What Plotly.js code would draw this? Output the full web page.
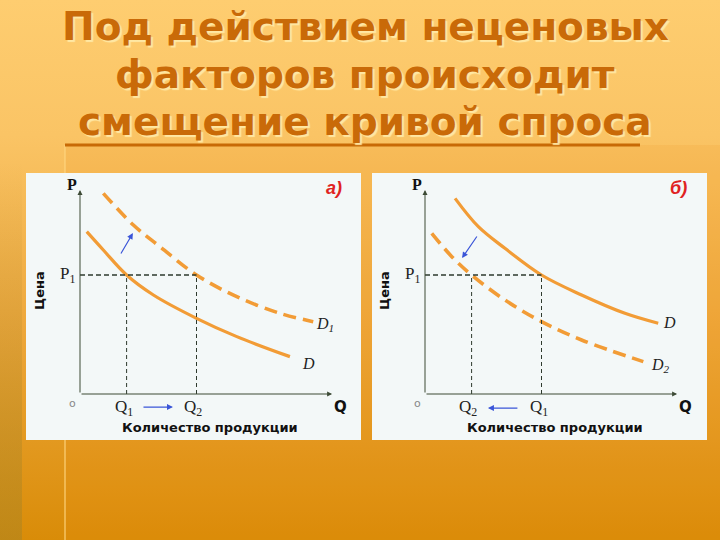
<!DOCTYPE html>
<html>
<head>
<meta charset="utf-8">
<script src="https://cdn.plot.ly/plotly-3.0.1.min.js"></script>
<style>
  html, body { margin:0; padding:0; width:720px; height:540px; overflow:hidden; }
  #bg { position:absolute; left:0; top:0; width:720px; height:540px;
        background: linear-gradient(to bottom, #FECD70 0%, #FAC465 25%, #EEA83C 60%, #D98C08 100%); }
  #strip { position:absolute; left:0; top:0; width:22px; height:540px;
        background: linear-gradient(to bottom, rgba(160,130,40,0) 30%, rgba(160,130,40,0.45) 100%); }
  #chart { position:absolute; left:0; top:0; width:720px; height:540px; }
</style>
</head>
<body>
<div id="bg"></div>
<div id="strip"></div>
<div id="chart"></div>
<script>
// ---- data (quantity, price) ----
const titleLines = ['Под действием неценовых', 'факторов происходит', 'смещение кривой спроса'];

// panel а): demand rises D -> D1
const qA_D  = [0.29, 1.00, 2.00, 3.15, 5.00, 6.73, 9.01];
const pA_D  = [6.82, 6.05, 5.00, 4.16, 3.18, 2.41, 1.57];
const qA_D1 = [1.00, 2.29, 3.43, 5.00, 6.73, 8.58, 10.01];
const pA_D1 = [8.43, 7.10, 6.19, 5.00, 4.09, 3.39, 3.04];

// panel б): demand falls D -> D2
const qB_D  = [1.29, 2.29, 3.43, 5.00, 6.72, 8.58, 10.01];
const pB_D  = [8.22, 7.03, 6.12, 5.00, 4.16, 3.39, 2.97];
const qB_D2 = [0.29, 1.15, 2.00, 3.43, 5.00, 6.72, 9.37];
const pB_D2 = [6.75, 5.77, 5.00, 3.95, 3.04, 2.27, 1.36];

const priceP1 = 5;
const qA = {Q1: 2, Q2: 5};
const qB = {Q1: 5, Q2: 2};

// shift arrows [fromQ, fromP, toQ, toP]
const curveArrowA = [1.72, 5.84, 2.27, 6.76];
const axisArrowA  = [2.66, -0.55, 3.99, -0.55];
const curveArrowB = [2.27, 6.68, 1.59, 5.71];
const axisArrowB  = [4.03, -0.59, 2.70, -0.59];

const axisLabelX = 'Количество продукции';
const axisLabelY = 'Цена';

// ---- styles / geometry ----
const AX_END = 10.82, AX_TOP = 8.57;          // where the drawn axis arrows end
const XR = [-2.2, 11.8], YR = [-1.8, 9.0];    // full axis ranges
const UX = 23.3, UY = 23.8;                    // pixels per unit
const orange = '#F29C36';
const axisCol = '#3c4a35';
const guideCol = '#2e3a2e';
const blue = '#3a55d8';
const serif = 'Liberation Serif, DejaVu Serif, serif';
const sans = 'DejaVu Sans, sans-serif';

function xDomain(ox) { return [(ox + XR[0]*UX)/720, (ox + XR[1]*UX)/720]; }
const OY = 394;
const yDom = [1 - (OY - YR[0]*UY)/540, 1 - (OY - YR[1]*UY)/540];

const traces = [
  {x:qA_D, y:pA_D, xaxis:'x', yaxis:'y', mode:'lines', line:{color:orange, width:3.2, shape:'spline'}, hoverinfo:'skip'},
  {x:qA_D1, y:pA_D1, xaxis:'x', yaxis:'y', mode:'lines', line:{color:orange, width:3.6, shape:'spline', dash:'13px,7px'}, hoverinfo:'skip'},
  {x:qB_D, y:pB_D, xaxis:'x2', yaxis:'y2', mode:'lines', line:{color:orange, width:3.2, shape:'spline'}, hoverinfo:'skip'},
  {x:qB_D2, y:pB_D2, xaxis:'x2', yaxis:'y2', mode:'lines', line:{color:orange, width:3.6, shape:'spline', dash:'13px,7px'}, hoverinfo:'skip'}
];

function guides(xr, yr, q) {
  const qmax = Math.max(q.Q1, q.Q2);
  return [
    {type:'line', xref:xr, yref:yr, x0:0, x1:qmax, y0:priceP1, y1:priceP1, line:{color:guideCol, width:1.3, dash:'5px,3px'}},
    {type:'line', xref:xr, yref:yr, x0:q.Q1, x1:q.Q1, y0:0, y1:priceP1, line:{color:guideCol, width:1, dash:'4px,3px'}},
    {type:'line', xref:xr, yref:yr, x0:q.Q2, x1:q.Q2, y0:0, y1:priceP1, line:{color:guideCol, width:1, dash:'4px,3px'}}
  ];
}

const shapes = [
  {type:'rect', xref:'paper', yref:'paper', x0:65/720, x1:1, y0:0, y1:1-145/540, fillcolor:'rgba(235,140,20,0.12)', line:{width:0}, layer:'below'},
  {type:'line', xref:'paper', yref:'paper', x0:65/720, x1:65/720, y0:0, y1:1-145/540, line:{color:'rgba(255,215,130,0.55)', width:2}, layer:'below'},
  {type:'line', xref:'paper', yref:'paper', x0:65/720, x1:640/720, y0:1-145/540, y1:1-145/540, line:{color:'#C86A06', width:3}, layer:'below'},
  {type:'rect', xref:'paper', yref:'paper', x0:26/720, x1:361/720, y0:1-440/540, y1:1-173/540, fillcolor:'#F3F8F8', line:{width:0}, layer:'below'},
  {type:'rect', xref:'paper', yref:'paper', x0:372/720, x1:707/720, y0:1-440/540, y1:1-173/540, fillcolor:'#F3F8F8', line:{width:0}, layer:'below'}
].concat(guides('x','y',qA), guides('x2','y2',qB));

function arrow(xr, yr, a, color, w, size) {
  return {xref:xr, yref:yr, axref:xr, ayref:yr, x:a[2], y:a[3], ax:a[0], ay:a[1],
          text:'', showarrow:true, arrowhead:2, arrowsize:size, arrowwidth:w, arrowcolor:color};
}
function label(xr, yr, x, y, text, font, extra) {
  return Object.assign({xref:xr, yref:yr, x:x, y:y, text:text, showarrow:false, font:font}, extra||{});
}

function panelAnnotations(xr, yr, q, tag, dashName, solidPos, dashPos, cArr, aArr) {
  const f17 = {family:serif, size:17, color:'#222'};
  return [
    arrow(xr, yr, [0,0,0,AX_TOP], axisCol, 1, 1),
    arrow(xr, yr, [0,0,AX_END,0], axisCol, 1, 1),
    arrow(xr, yr, cArr, blue, 1.2, 1),
    arrow(xr, yr, aArr, blue, 1.2, 1),
    label(xr, yr, -0.34, 8.8, 'P', {family:serif, size:16, color:'#111', weight:700}),
    label(xr, yr, -0.15, priceP1, 'P<sub>1</sub>', f17, {xanchor:'right'}),
    label(xr, yr, -0.34, -0.38, 'o', {family:sans, size:11, color:'#888'}),
    label(xr, yr, q.Q1 - 0.1, -0.6, 'Q<sub>1</sub>', f17),
    label(xr, yr, q.Q2 - 0.15, -0.6, 'Q<sub>2</sub>', f17),
    label(xr, yr, 11.2, -0.55, 'Q', {family:sans, size:15, color:'#111', weight:700}),
    label(xr, yr, solidPos[0], solidPos[1], 'D', {family:serif, size:16, color:'#222', style:'italic'}),
    label(xr, yr, dashPos[0], dashPos[1], dashName, {family:serif, size:16, color:'#222', style:'italic'}),
    label(xr, yr, 10.9, 8.65, tag, {family:'Liberation Sans, sans-serif', size:18, color:'#E02222', style:'italic', weight:700}),
    label(xr, yr, 5.6, -1.4, axisLabelX, {family:sans, size:13, color:'#111', weight:700}),
    label(xr, yr, -1.72, 4.37, axisLabelY, {family:sans, size:13, color:'#111', weight:700}, {textangle:-90})
  ];
}

const titleY = [26.7, 74.5, 122];
const titleAnn = titleLines.map((t, i) => ({
  xref:'paper', yref:'paper', x:365/720, y:1 - titleY[i]/540, xanchor:'center', yanchor:'middle',
  text:t, showarrow:false,
  font:{family:'DejaVu Sans, sans-serif', size:39, weight:700, color:'#C96A08',
        shadow:'2px 2px 1px rgba(255,235,170,0.9)'}
}));

const annotations = [].concat(
  titleAnn,
  panelAnnotations('x','y', qA, 'а)', 'D<sub>1</sub>', [9.8,1.3], [10.5,2.9], curveArrowA, axisArrowA),
  panelAnnotations('x2','y2', qB, 'б)', 'D<sub>2</sub>', [10.5,3.0], [10.1,1.2], curveArrowB, axisArrowB)
);

const axBase = {showgrid:false, zeroline:false, showticklabels:false, showline:false, ticks:'', fixedrange:true};
const layout = {
  width:720, height:540,
  margin:{l:0, r:0, t:0, b:0},
  paper_bgcolor:'rgba(0,0,0,0)', plot_bgcolor:'rgba(0,0,0,0)',
  showlegend:false,
  xaxis: Object.assign({domain:xDomain(80), range:XR, anchor:'y'}, axBase),
  yaxis: Object.assign({domain:yDom, range:YR, anchor:'x'}, axBase),
  xaxis2: Object.assign({domain:xDomain(425), range:XR, anchor:'y2'}, axBase),
  yaxis2: Object.assign({domain:yDom, range:YR, anchor:'x2'}, axBase),
  shapes:shapes,
  annotations:annotations
};
Plotly.newPlot('chart', traces, layout, {displayModeBar:false, staticPlot:true});
</script>
</body>
</html>
